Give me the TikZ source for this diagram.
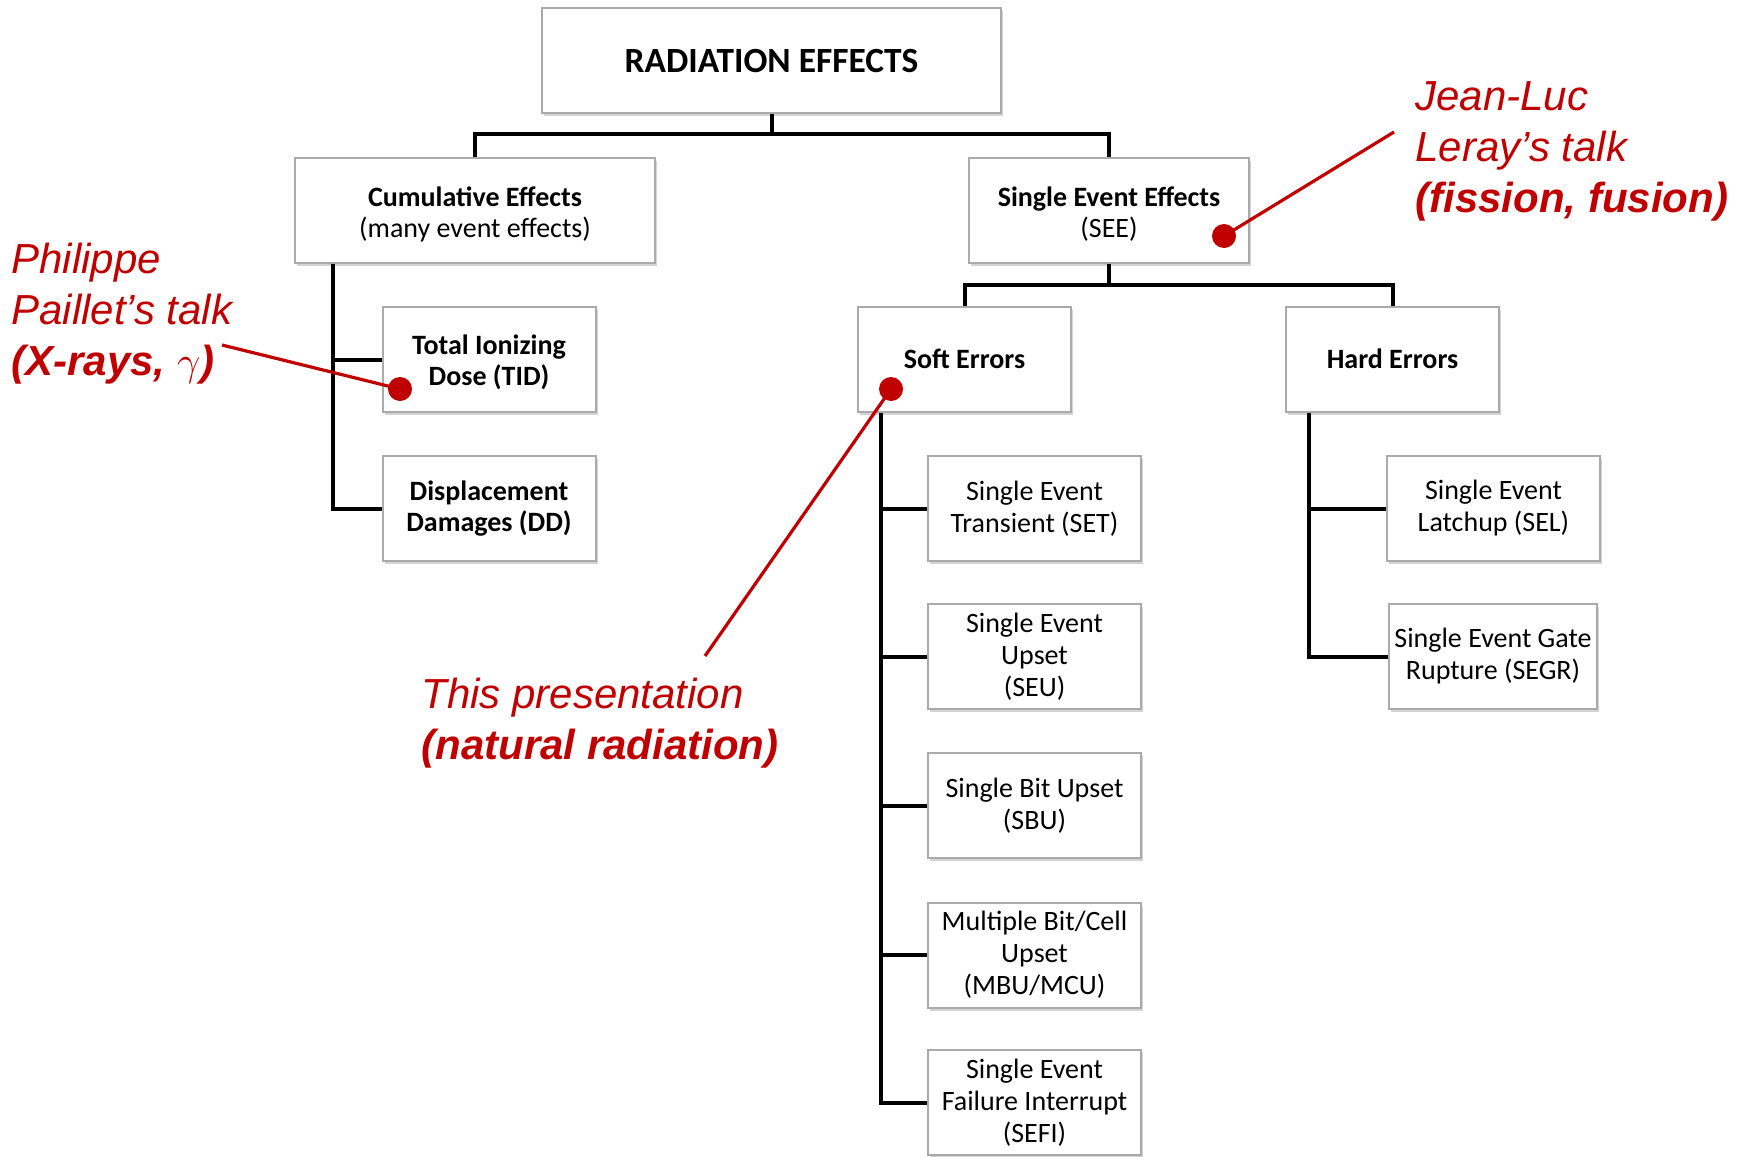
\documentclass[tikz,border=0pt]{standalone}
\usepackage{fontspec}
\setmainfont{Carlito}
\newfontfamily\arialf{Liberation Sans}
\usetikzlibrary{shadows}
\definecolor{annred}{RGB}{192,0,0}
\definecolor{boxgray}{RGB}{170,170,170}
\newcommand{\lowstrut}[1]{\rule{0pt}{#1}}
\begin{document}
\begin{tikzpicture}[x=0.5pt,y=-0.5pt,
  box/.style={draw=boxgray, line width=1pt, fill=white,
    drop shadow={opacity=0.35, shadow xshift=1.2pt, shadow yshift=-1.5pt},
    align=center, inner sep=0pt, minimum height=52.5pt, minimum width=106.5pt,
    font=\fontsize{14}{16}\selectfont},
  tree/.style={line width=2pt, black},
  ann/.style={font=\arialf\itshape\fontsize{21}{25.5}\selectfont, text=annred,
    align=left, anchor=west, inner sep=0pt},
  annline/.style={annred, line width=1.6pt},
  reddot/.style={circle, fill=annred, inner sep=0pt, minimum size=12pt}
]
\useasboundingbox (0,0) rectangle (1738,1156);

% boxes
\node[box, minimum width=229.5pt, font=\bfseries\fontsize{17.7}{20}\selectfont] (RE) at (771.5,61) {RADIATION EFFECTS};
\node[box, minimum width=180pt, font=\fontsize{14}{15.3}\selectfont] (CE) at (475,210) {\lowstrut{14pt}\textbf{Cumulative Effects}\\(many event effects)};
\node[box, minimum width=140pt, font=\fontsize{14}{15.3}\selectfont] (SEE) at (1109,210) {\lowstrut{14pt}\textbf{Single Event Effects}\\(SEE)};
\node[box, font=\fontsize{14}{15.3}\selectfont] (TID) at (489,359.5) {\lowstrut{12.5pt}\textbf{Total Ionizing}\\\textbf{Dose (TID)}};
\node[box, font=\fontsize{14}{15.5}\selectfont] (DD) at (489,508.5) {\textbf{Displacement}\\\textbf{Damages (DD)}};
\node[box, font=\bfseries\fontsize{14}{15.5}\selectfont] (Soft) at (964.5,359.5) {\raisebox{1.1pt}{Soft Errors}};
\node[box, font=\bfseries\fontsize{14}{15.5}\selectfont] (Hard) at (1392.5,359.5) {\raisebox{1.1pt}{Hard Errors}};
\node[box] (SET) at (1034.5,508.5) {Single Event\\Transient (SET)};
\node[box] (SEU) at (1034.5,656.5) {Single Event\\Upset\\(SEU)};
\node[box] (SBU) at (1034.5,805.5) {Single Bit Upset\\(SBU)};
\node[box] (MBU) at (1034.5,955) {Multiple Bit/Cell\\Upset\\(MBU/MCU)};
\node[box] (SEFI) at (1034.5,1102.5) {Single Event\\Failure Interrupt\\(SEFI)};
\node[box] (SEL) at (1493.5,508.5) {Single Event\\Latchup (SEL)};
\node[box, minimum width=104pt] (SEGR) at (1493,656.5) {Single Event Gate\\Rupture (SEGR)};

% tree connectors
\coordinate (busA) at (0,134);
\coordinate (busB) at (0,285);
\coordinate (tl) at (332.5,0);
\coordinate (ts) at (881,0);
\coordinate (th) at (1309,0);
\draw[tree] (RE.south) -- (RE.south |- busA);
\draw[tree] (CE.north) -- (CE.north |- busA) -- (SEE.north |- busA) -- (SEE.north);
\draw[tree] (CE.south -| tl) -- (DD.west -| tl) -- (DD.west);
\draw[tree] (TID.west -| tl) -- (TID.west);
\draw[tree] (SEE.south) -- (SEE.south |- busB);
\draw[tree] (Soft.north) -- (Soft.north |- busB) -- (Hard.north |- busB) -- (Hard.north);
\draw[tree] (Soft.south -| ts) -- (SEFI.west -| ts) -- (SEFI.west);
\foreach \n in {SET,SEU,SBU,MBU} \draw[tree] (\n.west -| ts) -- (\n.west);
\draw[tree] (Hard.south -| th) -- (SEGR.west -| th) -- (SEGR.west);
\draw[tree] (SEL.west -| th) -- (SEL.west);

% annotations
\node[ann] (PP) at (11,313.5) {Philippe\\Paillet’s talk\\\textbf{(X-rays, }$\gamma$\textbf{)}};
\node[ann] (JL) at (1415,151.5) {Jean-Luc\\Leray’s talk\\\textbf{(fission, fusion)}};
\node[ann] (TP) at (421,723.5) {This presentation\\\textbf{(natural radiation)}};
\coordinate (p1) at (222,345);
\coordinate (j1) at (1394,132);
\coordinate (t1) at (705,656);
\node[reddot] (pd) at (400,389) {};
\node[reddot] (jd) at (1224,236) {};
\node[reddot] (td) at (891,389) {};
\draw[annline] (p1) -- (pd.center);
\draw[annline] (j1) -- (jd.center);
\draw[annline] (t1) -- (td.center);
\end{tikzpicture}
\end{document}
